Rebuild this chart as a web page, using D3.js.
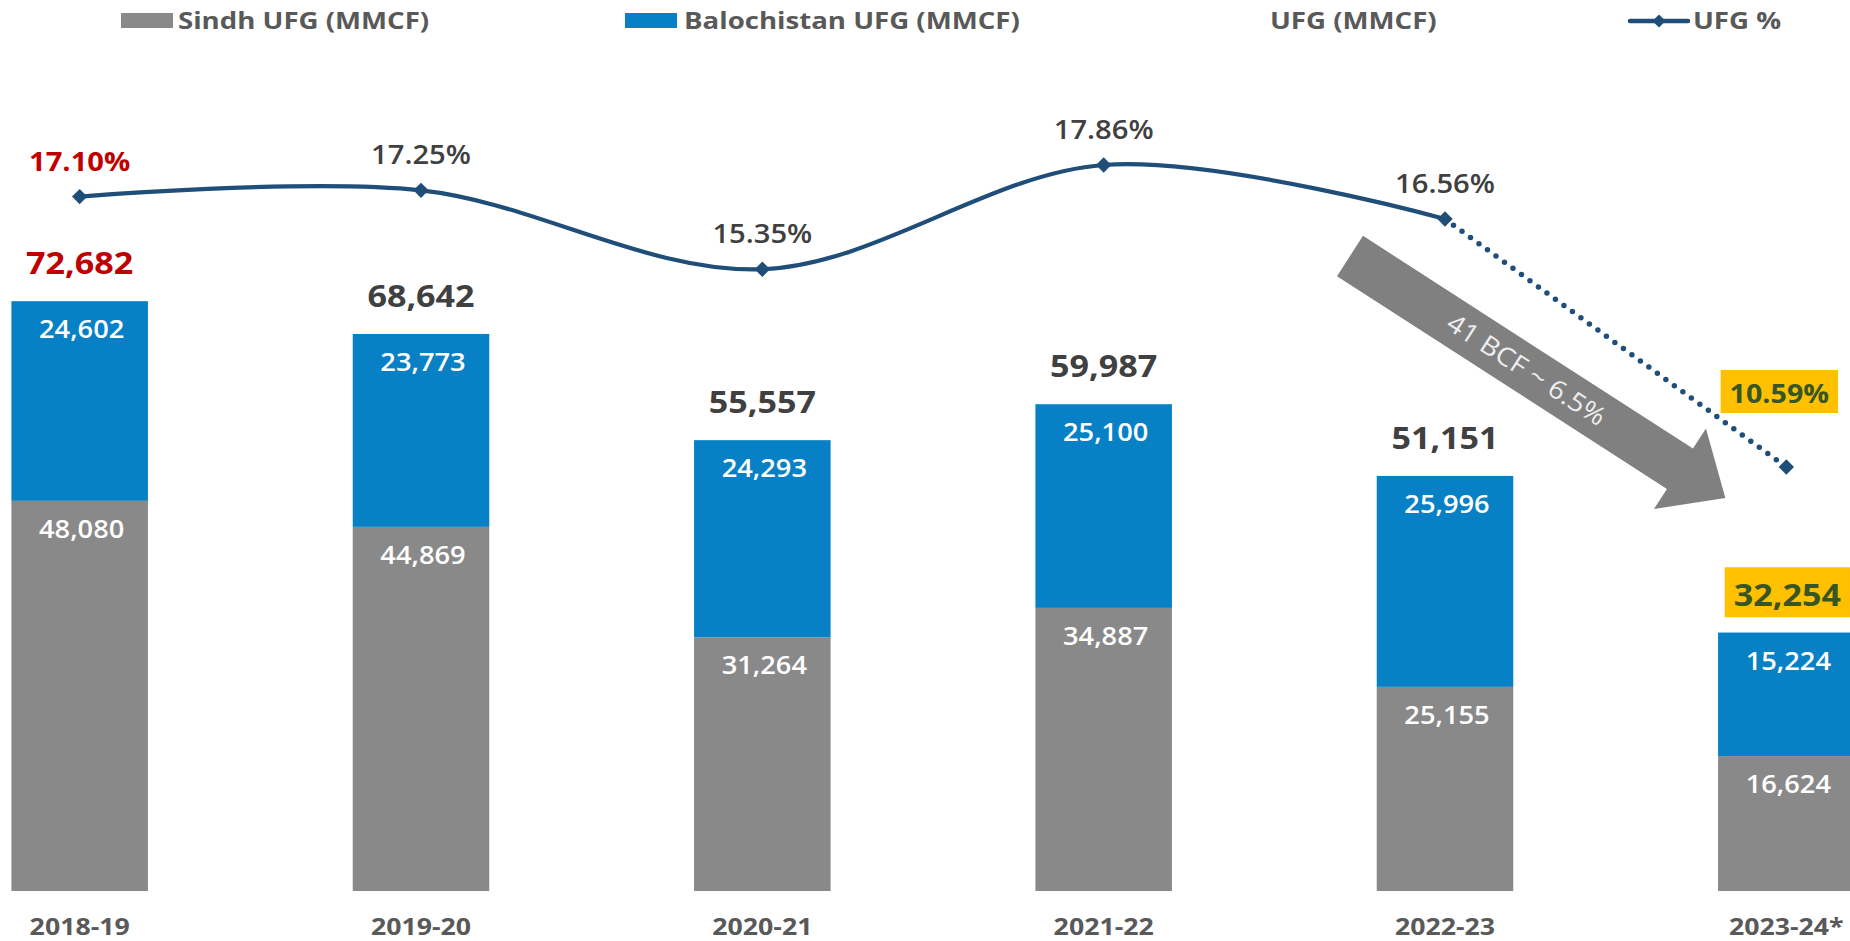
<!DOCTYPE html>
<html>
<head>
<meta charset="utf-8">
<script src="https://cdn.jsdelivr.net/npm/d3@7"></script>
<style>
  html, body { margin: 0; padding: 0; background: #fff; }
  svg { display: block; font-family: "Open Sans", "Noto Sans", sans-serif; }
</style>
</head>
<body>
<svg id="chart" width="1850" height="941"></svg>
<script>
// ---- data ----
const categories = ['2018-19', '2019-20', '2020-21', '2021-22', '2022-23', '2023-24*'];
const sindhUFG = [48080, 44869, 31264, 34887, 25155, 16624];
const balochistanUFG = [24602, 23773, 24293, 25100, 25996, 15224];
const totalUFG = [72682, 68642, 55557, 59987, 51151, 32254];
const ufgPercent = [17.10, 17.25, 15.35, 17.86, 16.56, 10.59];
const legendLabels = ['Sindh UFG (MMCF)', 'Balochistan UFG (MMCF)', 'UFG (MMCF)', 'UFG %'];
const arrowText = '41 BCF ~ 6.5%';

// ---- styles ----
const C = {
  sindh: '#898989', balo: '#0780C5', line: '#1F4E79', text: '#404040',
  legend: '#595959', red: '#C00000', hiFill: '#FFC000', hiText: '#375623', arrow: '#808080'
};

const svg = d3.select('#chart');

// widen text horizontally (reference glyphs are wider than the available fonts)
function stretch(sel, f) {
  sel.each(function () {
    const w = this.getComputedTextLength();
    d3.select(this).attr('textLength', w * f).attr('lengthAdjust', 'spacingAndGlyphs');
  });
  return sel;
}

const x = d3.scaleBand().domain(categories).range([-91, 1957]).paddingInner(0.6).paddingOuter(0.3);
const y = d3.scaleLinear().domain([0, 80000]).range([891, 241.8]);
const yP = d3.scaleLinear().domain([0, 20]).range([906.9, 76.1]);
const cx = c => x(c) + x.bandwidth() / 2;
const fmt = d3.format(',');

const rows = categories.map((c, i) => ({
  c, i, s: sindhUFG[i], b: balochistanUFG[i], t: totalUFG[i], p: ufgPercent[i]
}));
const last = rows.length - 1;

// ---- bars ----
const gBars = svg.append('g');
gBars.selectAll('rect.s').data(rows).join('rect')
  .attr('x', d => x(d.c)).attr('width', x.bandwidth())
  .attr('y', d => y(d.s)).attr('height', d => y(0) - y(d.s))
  .attr('fill', C.sindh);
gBars.selectAll('rect.b').data(rows).join('rect')
  .attr('x', d => x(d.c)).attr('width', x.bandwidth())
  .attr('y', d => y(d.s + d.b)).attr('height', d => y(d.s) - y(d.s + d.b))
  .attr('fill', C.balo);

// inner labels
stretch(gBars.selectAll('text.sl').data(rows).join('text')
  .attr('x', d => cx(d.c) + 2).attr('y', d => y(d.s) + 37)
  .attr('text-anchor', 'middle').attr('fill', '#fff')
  .attr('font-size', 25).attr('font-weight', 600)
  .text(d => fmt(d.s)), 1.09);
stretch(gBars.selectAll('text.bl').data(rows).join('text')
  .attr('x', d => cx(d.c) + 2).attr('y', d => y(d.s + d.b) + 37)
  .attr('text-anchor', 'middle').attr('fill', '#fff')
  .attr('font-size', 25).attr('font-weight', 600)
  .text(d => fmt(d.b)), 1.09);

// total labels
rows.forEach(d => {
  const top = d.i === last ? y(d.t) + 4 : y(d.s + d.b);
  const g = svg.append('g');
  const tx = cx(d.c) + (d.i === last ? 1 : 0);
  const t = g.append('text')
    .attr('x', tx).attr('y', top - 27)
    .attr('text-anchor', 'middle').attr('font-size', 31).attr('font-weight', 700)
    .attr('fill', d.i === 0 ? C.red : (d.i === last ? C.hiText : C.text))
    .text(fmt(d.t));
  stretch(t, 1.1);
  if (d.i === last) {
    const w = +t.attr('textLength');
    g.insert('rect', 'text')
      .attr('x', tx - w / 2 - 9).attr('y', top - 27 - 39)
      .attr('width', w + 18).attr('height', 50)
      .attr('fill', C.hiFill);
  }
});

// ---- arrow annotation ----
(function () {
  const tail = [cx(categories[4]) - 95, yP(ufgPercent[4]) + 37];
  const tip = [cx(categories[5]) - 61, yP(ufgPercent[5]) + 31];
  const dx = tip[0] - tail[0], dy = tip[1] - tail[1];
  const len = Math.hypot(dx, dy);
  const ang = Math.atan2(dy, dx) * 180 / Math.PI;
  const sw = 24, hw = 48, hl = 54;
  const g = svg.append('g').attr('transform', `translate(${tail[0]},${tail[1]}) rotate(${ang})`);
  g.append('path')
    .attr('d', `M0,${-sw} L${len - hl},${-sw} L${len - hl},${-hw} L${len},0 L${len - hl},${hw} L${len - hl},${sw} L0,${sw} Z`)
    .attr('fill', C.arrow);
  stretch(g.append('text')
    .attr('x', 210).attr('y', 2).attr('dominant-baseline', 'middle')
    .attr('text-anchor', 'middle').attr('font-size', 26).attr('fill', '#eeeeee')
    .text(arrowText), 1.08);
})();

// ---- UFG % line ----
const solidPts = rows.slice(0, 5).map(d => [cx(d.c), yP(d.p)]);
svg.append('path')
  .attr('d', d3.line().curve(d3.curveCardinal.tension(0))(solidPts))
  .attr('fill', 'none').attr('stroke', C.line).attr('stroke-width', 4.2);
const dotPts = rows.slice(4).map(d => [cx(d.c), yP(d.p)]);
svg.append('path')
  .attr('d', d3.line()(dotPts))
  .attr('fill', 'none').attr('stroke', C.line).attr('stroke-width', 5.5)
  .attr('stroke-linecap', 'round').attr('stroke-dasharray', '0 10.5');

const diamond = d3.symbol().type(d3.symbolDiamond2).size(150);
svg.selectAll('path.mk').data(rows).join('path')
  .attr('transform', d => `translate(${cx(d.c)},${yP(d.p)})`)
  .attr('d', diamond).attr('fill', C.line);

// percent labels
rows.forEach(d => {
  const g = svg.append('g');
  if (d.i === last) {
    const tx = cx(d.c) - 7;
    const t = g.append('text')
      .attr('x', tx).attr('y', yP(d.p) - 64)
      .attr('text-anchor', 'middle').attr('font-size', 27).attr('font-weight', 700)
      .attr('fill', C.hiText).text(d.p.toFixed(2) + '%');
    stretch(t, 1.06);
    const w = +t.attr('textLength');
    g.insert('rect', 'text')
      .attr('x', tx - w / 2 - 9).attr('y', yP(d.p) - 64 - 33)
      .attr('width', w + 18).attr('height', 43).attr('fill', C.hiFill);
  } else {
    stretch(g.append('text')
      .attr('x', cx(d.c)).attr('y', yP(d.p) - 26)
      .attr('text-anchor', 'middle').attr('font-size', 27)
      .attr('font-weight', d.i === 0 ? 700 : 600)
      .attr('fill', d.i === 0 ? C.red : C.text)
      .text(d.p.toFixed(2) + '%'), 1.08);
  }
});

// ---- category axis ----
const xAxis = d3.axisBottom(x).tickSize(0).tickPadding(0);
const gx = svg.append('g').attr('transform', 'translate(0,891)').call(xAxis);
gx.select('.domain').remove();
stretch(gx.selectAll('text')
  .attr('y', 44).attr('dy', 0)
  .attr('font-family', '"Open Sans", sans-serif')
  .attr('font-size', 23).attr('font-weight', 700).attr('fill', C.legend), 1.16);

// ---- legend ----
const lg = svg.append('g');
const legendItems = [
  { label: legendLabels[0], kind: 'rect', color: C.sindh, sx: 121, tx: 178 },
  { label: legendLabels[1], kind: 'rect', color: C.balo, sx: 625, tx: 684 },
  { label: legendLabels[2], kind: 'none', color: null, sx: 0, tx: 1270 },
  { label: legendLabels[3], kind: 'line', color: C.line, sx: 1630, tx: 1693 }
];
legendItems.forEach(it => {
  if (it.kind === 'rect') {
    lg.append('rect').attr('x', it.sx).attr('y', 13).attr('width', 52).attr('height', 15).attr('fill', it.color);
  } else if (it.kind === 'line') {
    lg.append('line').attr('x1', it.sx).attr('x2', it.sx + 58).attr('y1', 21).attr('y2', 21)
      .attr('stroke', it.color).attr('stroke-width', 4.5).attr('stroke-linecap', 'round');
    lg.append('path').attr('transform', `translate(${it.sx + 29},21)`)
      .attr('d', d3.symbol().type(d3.symbolDiamond2).size(110)).attr('fill', it.color);
  }
  stretch(lg.append('text').attr('x', it.tx).attr('y', 29)
    .attr('font-size', 24).attr('font-weight', 700).attr('fill', C.legend)
    .text(it.label), 1.15);
});
</script>
</body>
</html>
